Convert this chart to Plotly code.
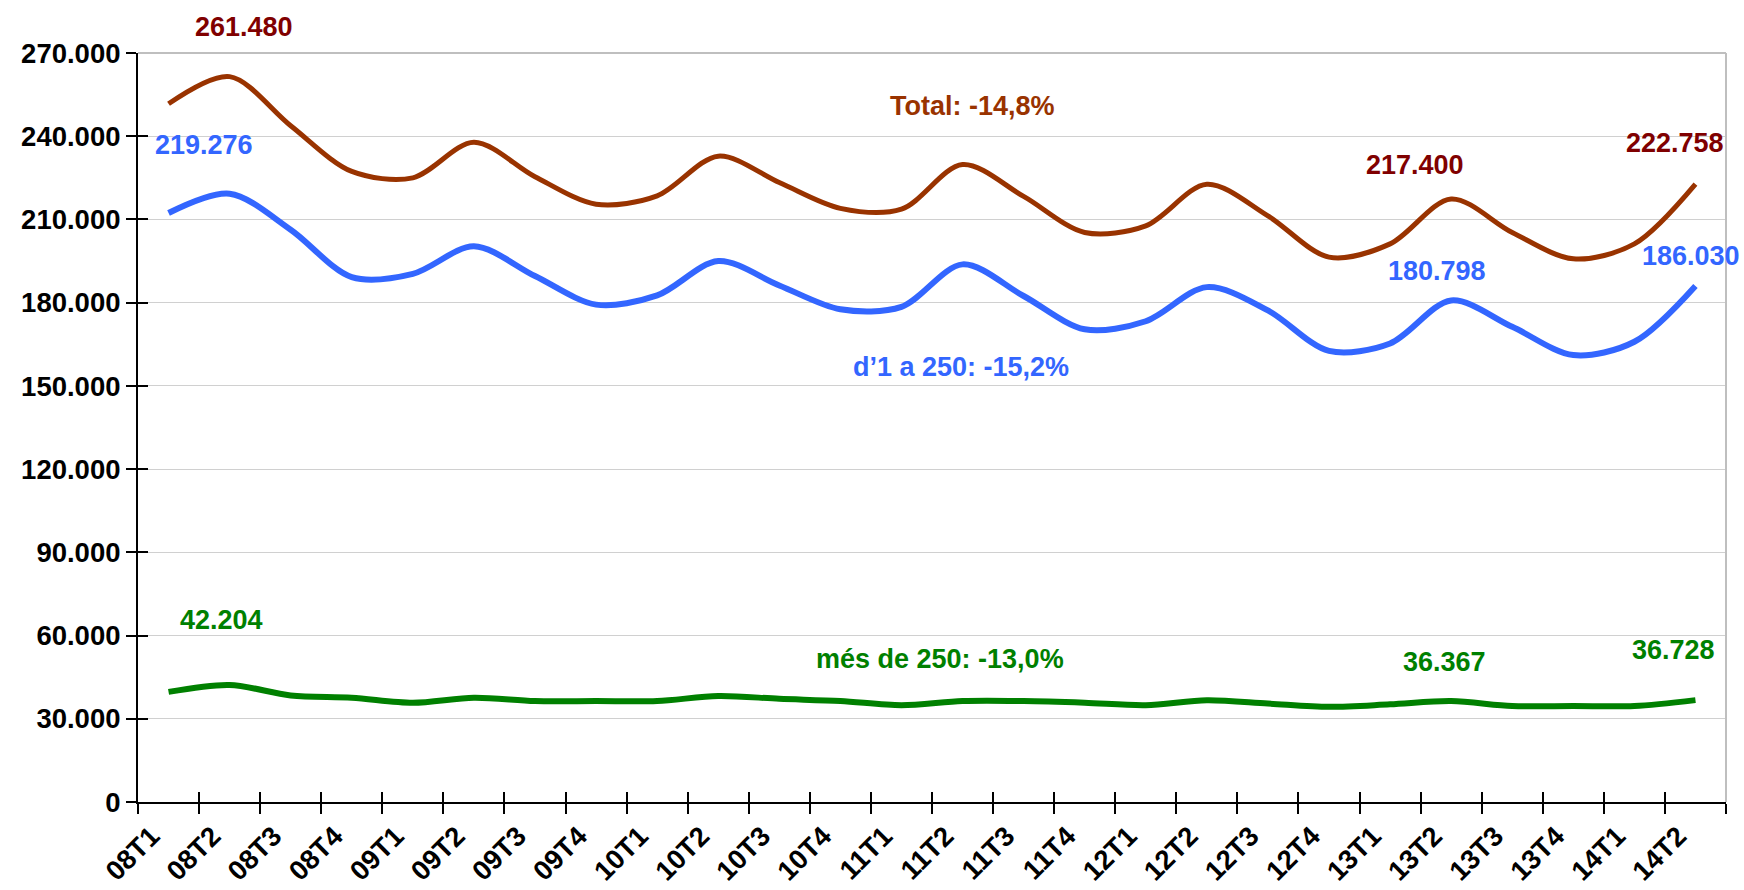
import plotly.graph_objects as go

quarters = ["08T1", "08T2", "08T3", "08T4", "09T1", "09T2", "09T3", "09T4",
            "10T1", "10T2", "10T3", "10T4", "11T1", "11T2", "11T3", "11T4",
            "12T1", "12T2", "12T3", "12T4", "13T1", "13T2", "13T3", "13T4",
            "14T1", "14T2"]

total = [251700, 261480, 243800, 227300, 225000, 237800, 225400, 215500,
         218500, 232800, 223300, 214000, 213700, 229800, 218300, 205300,
         207700, 222700, 211300, 196400, 201200, 217400, 205300, 195800,
         201200, 222758]

small = [212300, 219276, 206300, 189200, 190400, 200300, 189600, 179300,
         182600, 195000, 186200, 177600, 178500, 193800, 182400, 170400,
         173300, 185600, 177200, 162600, 165300, 180798, 171300, 161100,
         165900, 186030]

large = [39700, 42204, 38400, 37600, 35800, 37600, 36400, 36400,
         36400, 38200, 37200, 36400, 34900, 36400, 36400, 35800,
         34900, 36700, 35500, 34300, 35200, 36367, 34600, 34600,
         34600, 36728]

series_names = ["Total", "d\u20191 a 250", "m\u00e9s de 250"]
line_colors = ["#993300", "#3366FF", "#008000"]
value_label_colors = ["#800000", "#3366FF", "#008000"]

FONT = "Liberation Sans"


def fmt_int(v):
    return f"{v:,.0f}".replace(",", ".")


def fmt_pct(p):
    return f"{p * 100:.1f}".replace(".", ",") + "%"


fig = go.Figure()
for vals, name, col, w in zip([total, small, large], series_names, line_colors, [5, 6, 6]):
    fig.add_trace(go.Scatter(
        x=quarters, y=vals, name=name, mode="lines",
        line=dict(color=col, width=w, shape="spline", smoothing=0.9),
        showlegend=False, hoverinfo="x+y",
    ))

# helper trace carrying the overlay axis pair used for the inner half of the crossing ticks
fig.add_trace(go.Scatter(x=quarters, y=total, xaxis="x2", yaxis="y2", mode="lines",
                         line=dict(width=0), opacity=0, hoverinfo="skip", showlegend=False))

label_font = dict(family=FONT, size=27, weight="bold")

# data-value labels: (series, quarter index, xshift, yshift)
value_labels = [
    (total, 1, 14, 50), (total, 21, -36, 34), (total, 25, -20, 41),
    (small, 1, -26, 49), (small, 21, -14, 29), (small, 25, -4, 30),
    (large, 1, -8, 65), (large, 21, -7, 39), (large, 25, -22, 50),
]
series_list = [total, small, large]
for vals, idx, xs, ys in value_labels:
    si = series_list.index(vals)
    fig.add_annotation(x=quarters[idx], y=vals[idx], text=fmt_int(vals[idx]),
                       showarrow=False, xshift=xs, yshift=ys,
                       font=dict(label_font, color=value_label_colors[si]))

# series change labels (peak 08T2 -> last quarter)
change_pos = [(13.16, 251000), (12.98, 156900), (12.63, 51600)]
for vals, name, col, (px, py) in zip(series_list, series_names, line_colors, change_pos):
    pct = vals[-1] / vals[1] - 1
    fig.add_annotation(x=px, y=py, text=f"{name}: {fmt_pct(pct)}", showarrow=False,
                       font=dict(label_font, color=col))

# plot-area border (top and right)
fig.add_shape(type="line", xref="x domain", yref="y domain", x0=0, x1=1, y0=1, y1=1,
              line=dict(color="#BFBFBF", width=2))
fig.add_shape(type="line", xref="x domain", yref="y domain", x0=1, x1=1, y0=0, y1=1,
              line=dict(color="#BFBFBF", width=2))

tickfont = dict(family=FONT, size=27.5, color="black", weight="bold")

fig.update_layout(
    width=1744, height=890,
    margin=dict(l=138, r=18, t=53, b=88),
    paper_bgcolor="white", plot_bgcolor="white",
    separators=",.",
    xaxis=dict(type="category", categoryorder="array", categoryarray=quarters,
               range=[-0.5, len(quarters) - 0.5], tickson="boundaries",
               ticks="outside", ticklen=10, tickwidth=2, tickcolor="black",
               showline=True, linecolor="black", linewidth=2, showgrid=False,
               tickangle=-45, tickfont=tickfont, ticklabelshift=-17,
               ticklabelstandoff=5, automargin=False, zeroline=False),
    yaxis=dict(range=[0, 270000], dtick=30000, tick0=0, tickformat=",.0f",
               ticks="outside", ticklen=10, tickwidth=2, tickcolor="black",
               showline=True, linecolor="black", linewidth=2,
               showgrid=True, gridcolor="#D0D0D0", gridwidth=1,
               zeroline=False, tickfont=tickfont, automargin=False),
    xaxis2=dict(type="category", categoryorder="array", categoryarray=quarters,
                range=[-0.5, len(quarters) - 0.5], tickson="boundaries",
                overlaying="x", anchor="y2", side="bottom",
                ticks="inside", ticklen=10, tickwidth=2, tickcolor="black",
                showticklabels=False, showgrid=False, showline=False, zeroline=False),
    yaxis2=dict(range=[0, 270000], dtick=30000, tick0=0, overlaying="y", anchor="x2",
                side="left", ticks="inside", ticklen=10, tickwidth=2, tickcolor="black",
                showticklabels=False, showgrid=False, showline=False, zeroline=False),
)

fig.write_html("out.html", config={"displayModeBar": False},
               post_script="document.body.style.margin='0';document.body.style.overflow='hidden';")
